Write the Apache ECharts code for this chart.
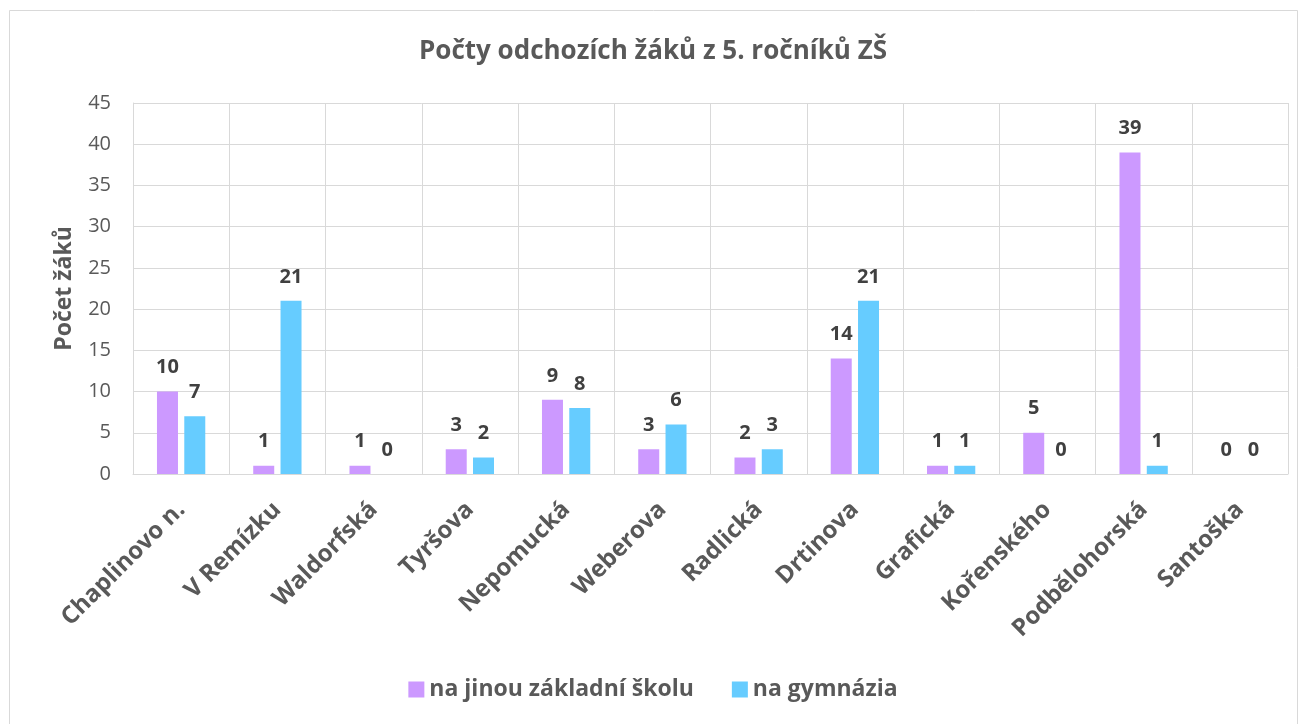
<!DOCTYPE html>
<html><head><meta charset="utf-8">
<script src="https://cdn.jsdelivr.net/npm/echarts@6/dist/echarts.min.js"></script>
<style>html,body{margin:0;padding:0;background:#fff}#c{width:1306px;height:724px}</style>
</head><body><div id="c"></div>
<script>
const categories = ["Chaplinovo n.", "V Remízku", "Waldorfská", "Tyršova", "Nepomucká", "Weberova", "Radlická", "Drtinova", "Grafická", "Kořenského", "Podbělohorská", "Santoška"];
const jinaZS = [10, 1, 1, 3, 9, 3, 2, 14, 1, 5, 39, 0];
const gymnazia = [7, 21, 0, 2, 8, 6, 3, 21, 1, 0, 1, 0];
const yTicks = [0, 5, 10, 15, 20, 25, 30, 35, 40, 45];

const FONT = '"Open Sans", "Noto Sans", sans-serif';
const chart = echarts.init(document.getElementById('c'), null, {renderer: 'canvas'});
const labelStyle = {show: true, position: 'top', distance: 14, color: '#404040', fontWeight: 'bold', fontSize: 20, fontFamily: FONT};
chart.setOption({
  animation: false,
  backgroundColor: '#fff',
  textStyle: {fontFamily: FONT},
  graphic: [{type: 'rect', shape: {x: 9.5, y: 10.5, width: 1288, height: 730}, style: {fill: 'none', stroke: '#d9d9d9', lineWidth: 1}, silent: true}],
  title: {text: 'Počty odchozích žáků z 5. ročníků ZŠ', left: 'center', top: 34,
    textStyle: {fontSize: 26, fontWeight: 'bold', color: '#595959', fontFamily: FONT}},
  legend: {bottom: 18, left: 'center', itemWidth: 16, itemHeight: 16, itemGap: 38, icon: 'rect',
    textStyle: {fontSize: 23, fontWeight: 'bold', color: '#595959', fontFamily: FONT},
    data: ['na jinou základní školu', 'na gymnázia']},
  grid: {left: 133, right: 18, top: 103, bottom: 250, containLabel: false},
  xAxis: {type: 'category', data: categories,
    axisLine: {show: true, lineStyle: {color: '#d9d9d9', width: 1}},
    axisTick: {show: false},
    splitLine: {show: true, lineStyle: {color: '#d9d9d9', width: 1}},
    axisLabel: {rotate: 45, interval: 0, fontSize: 24, fontWeight: 'bold', color: '#595959', margin: 32, fontFamily: FONT}},
  yAxis: {type: 'value', min: 0, max: 45, interval: 5,
    name: 'Počet žáků', nameLocation: 'middle', nameGap: 57, nameRotate: 90,
    nameTextStyle: {fontSize: 23, fontWeight: 'bold', color: '#595959', fontFamily: FONT},
    axisLine: {show: true, lineStyle: {color: '#d9d9d9'}},
    axisTick: {show: false},
    splitLine: {show: true, lineStyle: {color: '#d9d9d9', width: 1}},
    axisLabel: {fontSize: 20, color: '#595959', margin: 22, fontFamily: FONT,
      formatter: v => yTicks.includes(v) ? String(v) : ''}},
  series: [
    {name: 'na jinou základní školu', type: 'bar', data: jinaZS, barWidth: 21, barGap: '30%',
      itemStyle: {color: '#CC99FF'}, label: labelStyle},
    {name: 'na gymnázia', type: 'bar', data: gymnazia, barWidth: 21,
      itemStyle: {color: '#66CCFF'}, label: labelStyle}
  ]
});
</script></body></html>
